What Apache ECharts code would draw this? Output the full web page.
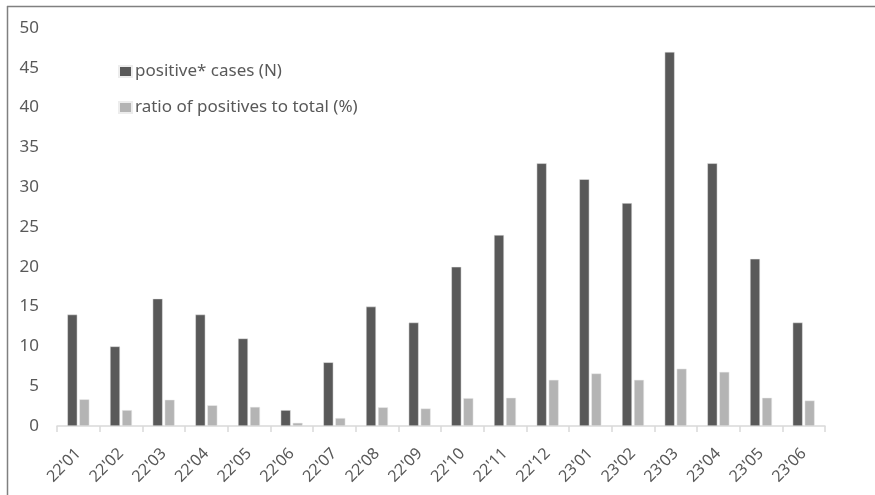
<!DOCTYPE html>
<html>
<head>
<meta charset="utf-8">
<script src="https://cdn.jsdelivr.net/npm/echarts@6/dist/echarts.min.js"></script>
<style>
  html, body { margin: 0; padding: 0; background: #ffffff; }
  #chart { width: 875px; height: 495px; }
</style>
</head>
<body>
<div id="chart"></div>
<script>
// Monthly categories (YY'MM)
const months = ["22'01", "22'02", "22'03", "22'04", "22'05", "22'06", "22'07", "22'08", "22'09",
                "22'10", "22'11", "22'12", "23'01", "23'02", "23'03", "23'04", "23'05", "23'06"];
// Number of positive cases
const positiveCases = [14, 10, 16, 14, 11, 2, 8, 15, 13, 20, 24, 33, 31, 28, 47, 33, 21, 13];
// Share of positives among all tests, in percent
const positiveRatio = [3.35, 2.0, 3.3, 2.6, 2.4, 0.4, 1.0, 2.35, 2.2, 3.5, 3.55, 5.8, 6.6, 5.8, 7.2, 6.8, 3.55, 3.2];
const yTicks = { min: 0, max: 50, interval: 5 };

const FONT = "'Noto Sans', 'Noto Sans CJK KR', sans-serif";

const chart = echarts.init(document.getElementById('chart'), null, { renderer: 'canvas' });

chart.setOption({
  animation: false,
  backgroundColor: '#ffffff',
  textStyle: { fontFamily: FONT },
  grid: { left: 57, right: 50, top: 28, bottom: 69, containLabel: false },
  legend: {
    orient: 'vertical',
    left: 113,
    top: 58,
    itemWidth: 13,
    itemHeight: 11,
    itemGap: 19,
    icon: 'rect',
    textStyle: { fontFamily: FONT, fontSize: 17, color: '#595959', padding: [0, 0, 0, -2] },
    data: ['positive* cases (N)', 'ratio of positives to total (%)']
  },
  xAxis: {
    type: 'category',
    data: months,
    boundaryGap: true,
    axisLine: { show: true, lineStyle: { color: '#d9d9d9', width: 1.5 } },
    axisTick: { show: true, length: 6, alignWithLabel: false, lineStyle: { color: '#d9d9d9', width: 1.5 } },
    axisLabel: { rotate: 45, fontSize: 16, color: '#595959', fontFamily: FONT, margin: 25, interval: 0 }
  },
  yAxis: {
    type: 'value',
    min: yTicks.min,
    max: yTicks.max,
    interval: yTicks.interval,
    axisLine: { show: false },
    axisTick: { show: false },
    splitLine: { show: false },
    axisLabel: { fontSize: 17, color: '#595959', fontFamily: FONT, margin: 18 }
  },
  series: [
    {
      name: 'positive* cases (N)',
      type: 'bar',
      data: positiveCases,
      barWidth: 10,
      barGap: '20%',
      itemStyle: { color: '#595959', borderColor: '#ededed', borderWidth: 0.5 }
    },
    {
      name: 'ratio of positives to total (%)',
      type: 'bar',
      data: positiveRatio,
      barWidth: 10,
      itemStyle: { color: '#b4b4b4', borderColor: '#ededed', borderWidth: 0.5 }
    }
  ],
  graphic: [
    // frame lines along the top and left edges
    { type: 'line', shape: { x1: 7, y1: 6.5, x2: 875, y2: 6.5 }, style: { stroke: '#808080', lineWidth: 1.5 } },
    { type: 'line', shape: { x1: 7.5, y1: 6, x2: 7.5, y2: 495 }, style: { stroke: '#808080', lineWidth: 1.5 } }
  ]
});
</script>
</body>
</html>
